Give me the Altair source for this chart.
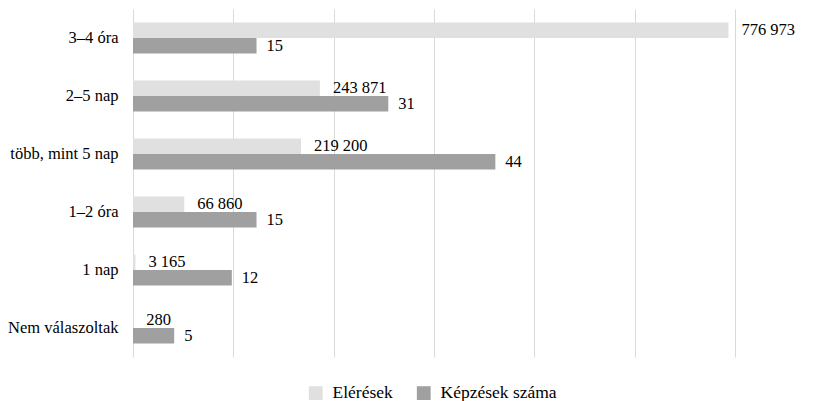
import altair as alt
import pandas as pd

# Categories (top to bottom) and the two series
categories = ["3–4 óra", "2–5 nap", "több, mint 5 nap", "1–2 óra", "1 nap", "Nem válaszoltak"]
series = ["Elérések", "Képzések száma"]
eleresek = [776973, 243871, 219200, 66860, 3165, 280]
kepzesek = [15, 31, 44, 15, 12, 5]
colors = ["#e0e0e0", "#a0a0a0"]

# Each series runs on its own horizontal scale
ELERES_MAX = 785500
KEPZES_MAX = 73.1
grid_values = [ELERES_MAX * i / 6 for i in range(7)]

FONT = "'Liberation Serif', 'Times New Roman', 'DejaVu Serif', serif"


def fmt(v):
    return f"{v:,}".replace(",", " ")


rows = []
for cat, e, k in zip(categories, eleresek, kepzesek):
    rows.append({"category": cat, "series": series[0], "value": e, "label": fmt(e)})
    rows.append({"category": cat, "series": series[1], "value": k, "label": fmt(k)})
df = pd.DataFrame(rows)

y_enc = alt.Y(
    "category:N",
    sort=categories,
    scale=alt.Scale(paddingInner=27 / 58, paddingOuter=13.5 / 58),
    axis=alt.Axis(
        title=None, domain=False, ticks=False, labelFont=FONT, labelFontSize=16.5,
        labelColor="#000000", labelPadding=15, minExtent=128, maxExtent=128,
    ),
)
yoff_enc = alt.YOffset("series:N", scale=alt.Scale(domain=series))
color_enc = alt.Color(
    "series:N",
    scale=alt.Scale(domain=series, range=colors),
    legend=alt.Legend(
        title=None, orient="none", legendX=174, legendY=375, direction="horizontal",
        symbolType="square", symbolSize=190, symbolStrokeWidth=0, labelFont=FONT,
        labelFontSize=17.5, labelColor="#000000", columnPadding=22, labelOffset=8,
    ),
)

base = alt.Chart(df)

x_e = alt.X(
    "value:Q",
    scale=alt.Scale(domain=[0, ELERES_MAX], nice=False, zero=True),
    axis=alt.Axis(
        values=grid_values, labels=False, ticks=False, domain=False, grid=True,
        gridColor="#d9d9d9", gridWidth=1, title=None,
    ),
)
x_k = alt.X("value:Q", scale=alt.Scale(domain=[0, KEPZES_MAX], nice=False, zero=True), axis=None)

e_data = base.transform_filter(alt.datum.series == series[0])
k_data = base.transform_filter(alt.datum.series == series[1])

e_bars = e_data.mark_bar().encode(x=x_e, y=y_enc, yOffset=yoff_enc, color=color_enc)
e_text = e_data.mark_text(
    align="left", baseline="middle", dx=13, font=FONT, fontSize=16.5, color="#000000"
).encode(x=x_e, y=y_enc, yOffset=yoff_enc, text="label:N")

k_bars = k_data.mark_bar().encode(x=x_k, y=y_enc, yOffset=yoff_enc, color=color_enc)
k_text = k_data.mark_text(
    align="left", baseline="middle", dx=10, font=FONT, fontSize=16.5, color="#000000"
).encode(x=x_k, y=y_enc, yOffset=yoff_enc, text="label:N")

chart = (
    alt.layer(alt.layer(e_bars, e_text), alt.layer(k_bars, k_text))
    .resolve_scale(x="independent")
    .properties(
        width=602, height=348,
        padding={"left": 5, "top": 9, "right": 5, "bottom": 5},
    )
    .configure_view(stroke=None)
)

chart.save("out.html", embed_options={"renderer": "svg", "actions": False})
